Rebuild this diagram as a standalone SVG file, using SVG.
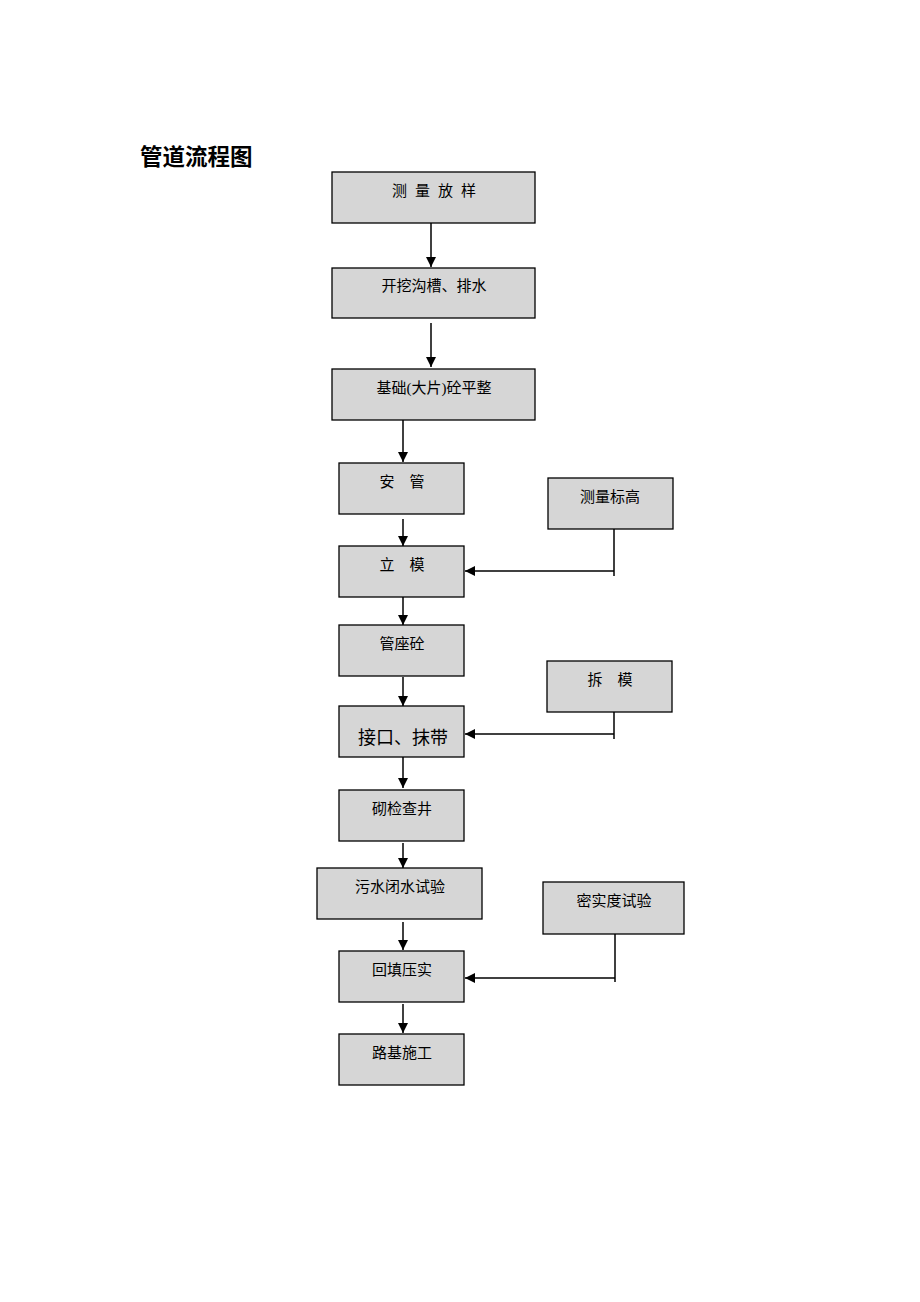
<svg xmlns="http://www.w3.org/2000/svg" width="920" height="1302" viewBox="0 0 920 1302">
<style>
.box{fill:#d6d6d6;stroke:#000;stroke-width:1.3}
.t{font-family:"Liberation Serif","Noto Sans CJK SC",serif;font-size:15px;text-anchor:middle;fill:#000}
.big{font-size:18px}
.ln{stroke:#000;stroke-width:1.5;fill:none}
</style>
<defs>
<marker id="ah" viewBox="0 0 10 10" refX="10" refY="5" markerWidth="10" markerHeight="10" markerUnits="userSpaceOnUse" orient="auto">
<path d="M0,0 L10,5 L0,10 Z" fill="#000"/>
</marker>
</defs>
<rect width="920" height="1302" fill="#fff"/>
<text x="140" y="165" font-family="Liberation Sans,'Noto Sans CJK SC',sans-serif" font-size="22.5" font-weight="bold">管道流程图</text>
<g id="n1"><rect class="box" x="332" y="172" width="203" height="51"/><text class="t" x="438" y="196" letter-spacing="8">测量放样</text></g>
<g id="n2"><rect class="box" x="332" y="268" width="203" height="50"/><text class="t" x="434" y="291">开挖沟槽、排水</text></g>
<g id="n3"><rect class="box" x="332" y="369" width="203" height="51"/><text class="t" x="434" y="393">基础(大片)砼平整</text></g>
<g id="n4"><rect class="box" x="339" y="463" width="125" height="51"/><text class="t" x="402" y="487">安　管</text></g>
<g id="n5"><rect class="box" x="339" y="546" width="125" height="51"/><text class="t" x="402" y="570">立　模</text></g>
<g id="n6"><rect class="box" x="339" y="625" width="125" height="51"/><text class="t" x="402" y="649">管座砼</text></g>
<g id="n7"><rect class="box" x="339" y="706" width="125" height="51"/><text class="t big" x="403" y="744">接口、抹带</text></g>
<g id="n8"><rect class="box" x="339" y="790" width="125" height="51"/><text class="t" x="402" y="814">砌检查井</text></g>
<g id="n9"><rect class="box" x="317" y="868" width="165" height="51"/><text class="t" x="400" y="892">污水闭水试验</text></g>
<g id="n10"><rect class="box" x="339" y="951" width="125" height="51"/><text class="t" x="402" y="975">回填压实</text></g>
<g id="n11"><rect class="box" x="339" y="1034" width="125" height="51"/><text class="t" x="402" y="1058">路基施工</text></g>
<g id="s1"><rect class="box" x="548" y="478" width="125" height="51"/><text class="t" x="610" y="502">测量标高</text></g>
<g id="s2"><rect class="box" x="547" y="661" width="125" height="51"/><text class="t" x="610" y="685">拆　模</text></g>
<g id="s3"><rect class="box" x="543" y="882" width="141" height="52"/><text class="t" x="614" y="906">密实度试验</text></g>
<g id="connectors">
<line class="ln" x1="431" y1="223" x2="431" y2="267" marker-end="url(#ah)"/>
<line class="ln" x1="431" y1="323" x2="431" y2="367" marker-end="url(#ah)"/>
<line class="ln" x1="403" y1="420" x2="403" y2="462" marker-end="url(#ah)"/>
<line class="ln" x1="403" y1="519" x2="403" y2="546" marker-end="url(#ah)"/>
<line class="ln" x1="403" y1="597" x2="403" y2="625" marker-end="url(#ah)"/>
<line class="ln" x1="403" y1="677" x2="403" y2="706" marker-end="url(#ah)"/>
<line class="ln" x1="403" y1="757" x2="403" y2="788" marker-end="url(#ah)"/>
<line class="ln" x1="403" y1="843" x2="403" y2="868" marker-end="url(#ah)"/>
<line class="ln" x1="403" y1="922" x2="403" y2="950" marker-end="url(#ah)"/>
<line class="ln" x1="403" y1="1004" x2="403" y2="1033" marker-end="url(#ah)"/>
<line class="ln" x1="614" y1="529" x2="614" y2="576"/>
<line class="ln" x1="614" y1="571" x2="465" y2="571" marker-end="url(#ah)"/>
<line class="ln" x1="614" y1="712" x2="614" y2="739"/>
<line class="ln" x1="614" y1="734" x2="465" y2="734" marker-end="url(#ah)"/>
<line class="ln" x1="615" y1="934" x2="615" y2="982"/>
<line class="ln" x1="615" y1="978" x2="465" y2="978" marker-end="url(#ah)"/>
</g>
</svg>
